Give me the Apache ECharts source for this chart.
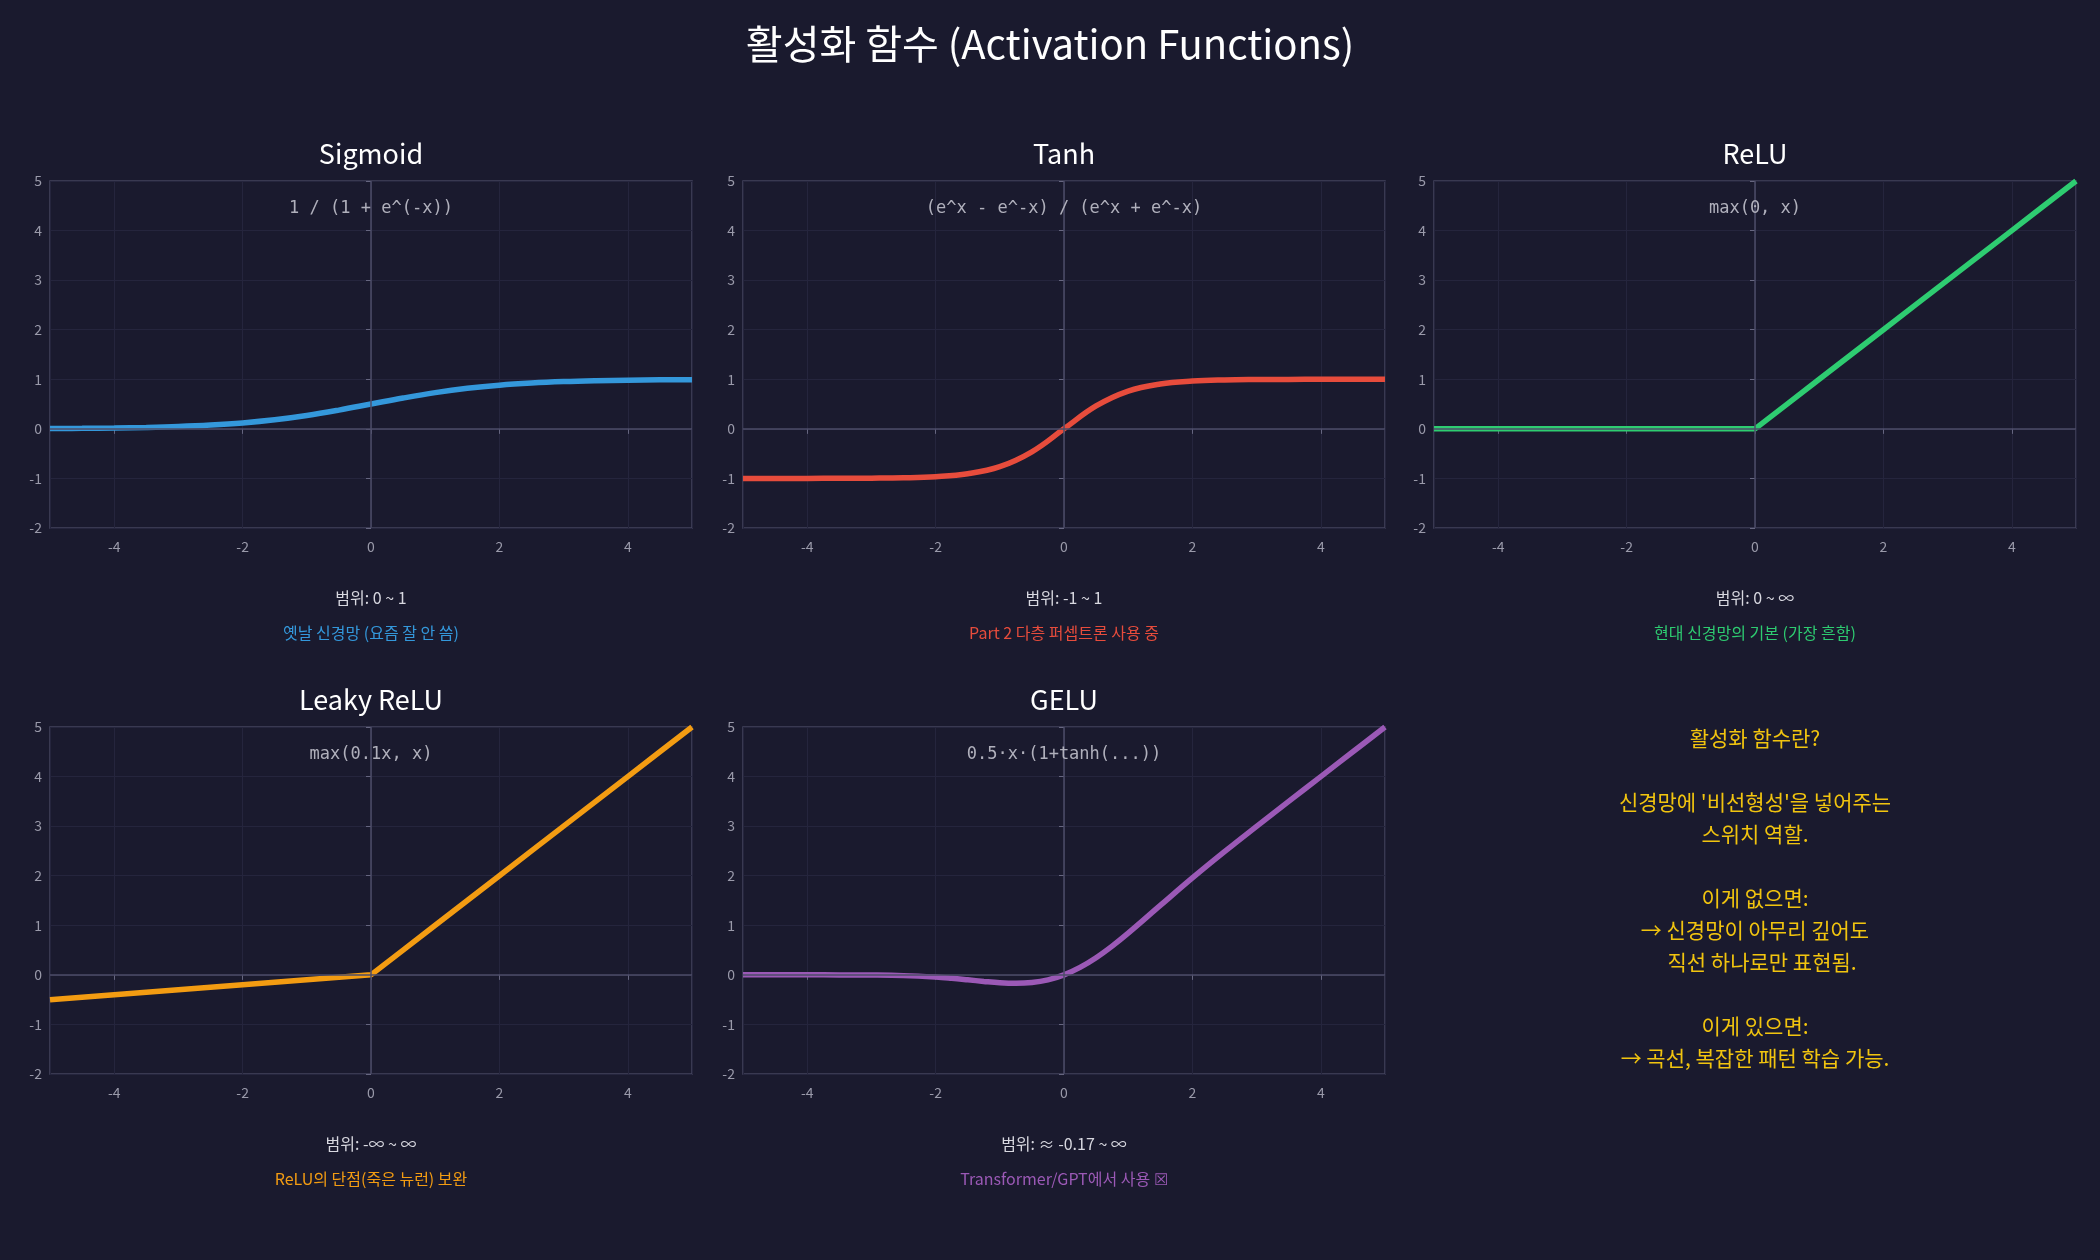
<!DOCTYPE html>
<html>
<head>
    <meta charset="utf-8">
    <title>활성화 함수</title>
    <style>
        html, body { margin: 0; padding: 0; background: #1a1a2e; }
        #main { width: 2100px; height: 1260px; }
    </style>
</head>
<body>
    <div id="main"></div>
    <script src="https://cdn.jsdelivr.net/npm/echarts@6/dist/echarts.min.js"></script>
    <script type="text/javascript">
var myChart = echarts.init(document.getElementById('main'));

// x sample points shared by most panels
var xs = [-5, -4.5, -4, -3.5, -3, -2.5, -2, -1.5, -1, -0.5, 0, 0.5, 1, 1.5, 2, 2.5, 3, 3.5, 4, 4.5, 5];
// denser samples for the GELU dip
var xsGelu = [-5, -4.5, -4, -3.5, -3, -2.5, -2, -1.75, -1.5, -1.25, -1, -0.75, -0.5, -0.25, 0, 0.25, 0.5, 0.75, 1, 1.5, 2, 2.5, 3, 3.5, 4, 4.5, 5];

// values
var sigmoidY = [0.007, 0.011, 0.018, 0.029, 0.047, 0.076, 0.119, 0.182, 0.269, 0.378, 0.5, 0.622, 0.731, 0.818, 0.881, 0.924, 0.953, 0.971, 0.982, 0.989, 0.993];
var tanhY = [-1.0, -1.0, -0.999, -0.998, -0.995, -0.987, -0.964, -0.905, -0.762, -0.462, 0, 0.462, 0.762, 0.905, 0.964, 0.987, 0.995, 0.998, 0.999, 1.0, 1.0];
var reluY = [0, 0, 0, 0, 0, 0, 0, 0, 0, 0, 0, 0.5, 1, 1.5, 2, 2.5, 3, 3.5, 4, 4.5, 5];
var leakyY = [-0.5, -0.45, -0.4, -0.35, -0.3, -0.25, -0.2, -0.15, -0.1, -0.05, 0, 0.5, 1, 1.5, 2, 2.5, 3, 3.5, 4, 4.5, 5];
var geluY = [0, 0, -0.0001, -0.0008, -0.004, -0.0155, -0.0455, -0.070, -0.100, -0.132, -0.159, -0.170, -0.154, -0.100, 0, 0.150, 0.346, 0.580, 0.841, 1.400, 1.955, 2.485, 2.996, 3.499, 4.0, 4.5, 5];

var names = ['Sigmoid', 'Tanh', 'ReLU', 'Leaky ReLU', 'GELU'];
var formulas = ['1 / (1 + e^(-x))', '(e^x - e^-x) / (e^x + e^-x)', 'max(0, x)', 'max(0.1x, x)', '0.5·x·(1+tanh(...))'];
var ranges = ['범위: 0 ~ 1', '범위: -1 ~ 1', '범위: 0 ~ ∞', '범위: -∞ ~ ∞', '범위: ≈ -0.17 ~ ∞'];
var notes = ['옛날 신경망 (요즘 잘 안 씀)', 'Part 2 다층 퍼셉트론 사용 중', '현대 신경망의 기본 (가장 흔함)', 'ReLU의 단점(죽은 뉴런) 보완', 'Transformer/GPT에서 사용 ☒'];
var colors = ['#3498db', '#e74c3c', '#2ecc71', '#f39c12', '#9b59b6'];
var curveX = [xs, xs, xs, xs, xsGelu];
var curves = [sigmoidY, tanhY, reluY, leakyY, geluY];
var smoothFlags = [true, true, false, false, true];

var infoLines = [
    '활성화 함수란?',
    '',
    '신경망에 \'비선형성\'을 넣어주는',
    '스위치 역할.',
    '',
    '이게 없으면:',
    '→ 신경망이 아무리 깊어도',
    '   직선 하나로만 표현됨.',
    '',
    '이게 있으면:',
    '→ 곡선, 복잡한 패턴 학습 가능.'
];

var cols = [50, 743, 1434];
var rows = [181, 727];
var gw = 642, gh = 347;
var font = "'Noto Sans CJK KR', 'Noto Sans', sans-serif";

var grids = [], xAxes = [], yAxes = [], series = [], graphics = [];

graphics.push({
    type: 'text', x: 1050, y: 44,
    style: { text: '활성화 함수 (Activation Functions)', fill: '#ffffff', font: '40px ' + font, textAlign: 'center', textVerticalAlign: 'middle' }
});

for (var i = 0; i < 5; i++) {
    var gl = cols[i % 3], gt = rows[Math.floor(i / 3)];
    var cx = gl + gw / 2;
    grids.push({
        left: gl, top: gt, width: gw, height: gh,
        show: true, borderColor: '#44445e', borderWidth: 1.5, backgroundColor: 'transparent'
    });
    xAxes.push({
        type: 'value', gridIndex: i, min: -5, max: 5, splitNumber: 5,
        axisLine: { show: false },
        axisTick: { show: true, length: 5, lineStyle: { color: '#666680' } },
        axisLabel: {
            color: '#9a9aaa', fontSize: 14, margin: 12, fontFamily: font,
            showMinLabel: false, showMaxLabel: false
        },
        splitLine: { show: true, lineStyle: { color: '#25253d', width: 1 } }
    });
    yAxes.push({
        type: 'value', gridIndex: i, min: -2, max: 5, interval: 1,
        axisLine: { show: false },
        axisTick: { show: true, length: 5, lineStyle: { color: '#666680' } },
        axisLabel: { color: '#9a9aaa', fontSize: 14, margin: 8, fontFamily: font },
        splitLine: { show: true, lineStyle: { color: '#25253d', width: 1 } }
    });
    // zero lines
    series.push({
        type: 'line', xAxisIndex: i, yAxisIndex: i, data: [], z: 1,
        markLine: {
            silent: true, symbol: 'none', animation: false,
            label: { show: false },
            lineStyle: { color: '#4c4c68', width: 1.5, type: 'solid' },
            data: [{ xAxis: 0 }, { yAxis: 0 }]
        }
    });
    var ys = curves[i], px = curveX[i];
    series.push({
        name: names[i], type: 'line', xAxisIndex: i, yAxisIndex: i, z: 3,
        data: px.map(function (x, k) { return [x, ys[k]]; }),
        smooth: smoothFlags[i] ? 0.4 : false,
        showSymbol: false, symbol: 'none',
        lineStyle: { color: colors[i], width: 5.5 },
        itemStyle: { color: colors[i] }
    });
    graphics.push({
        type: 'text', x: cx, y: gt - 27,
        style: { text: names[i], fill: '#ffffff', font: '27px ' + font, textAlign: 'center', textVerticalAlign: 'middle' }
    });
    graphics.push({
        type: 'text', x: cx, y: gt + 28, z: 10,
        style: { text: formulas[i], fill: '#b0b0bc', font: '17px "DejaVu Sans Mono", monospace', textAlign: 'center', textVerticalAlign: 'middle' }
    });
    graphics.push({
        type: 'text', x: cx, y: gt + gh + 70,
        style: { text: ranges[i], fill: '#d8d8e0', font: '16px ' + font, textAlign: 'center', textVerticalAlign: 'middle' }
    });
    graphics.push({
        type: 'text', x: cx, y: gt + gh + 105,
        style: { text: notes[i], fill: colors[i], font: '16px ' + font, textAlign: 'center', textVerticalAlign: 'middle' }
    });
}

graphics.push({
    type: 'text', x: cols[2] + gw / 2, y: 722,
    style: {
        text: infoLines.join('\n'), fill: '#f1c40f', font: '21px ' + font,
        textAlign: 'center', textVerticalAlign: 'top', lineHeight: 32
    }
});

myChart.setOption({
    backgroundColor: '#1a1a2e',
    animation: false,
    grid: grids,
    xAxis: xAxes,
    yAxis: yAxes,
    series: series,
    graphic: graphics
});
    </script>
</body>
</html>
